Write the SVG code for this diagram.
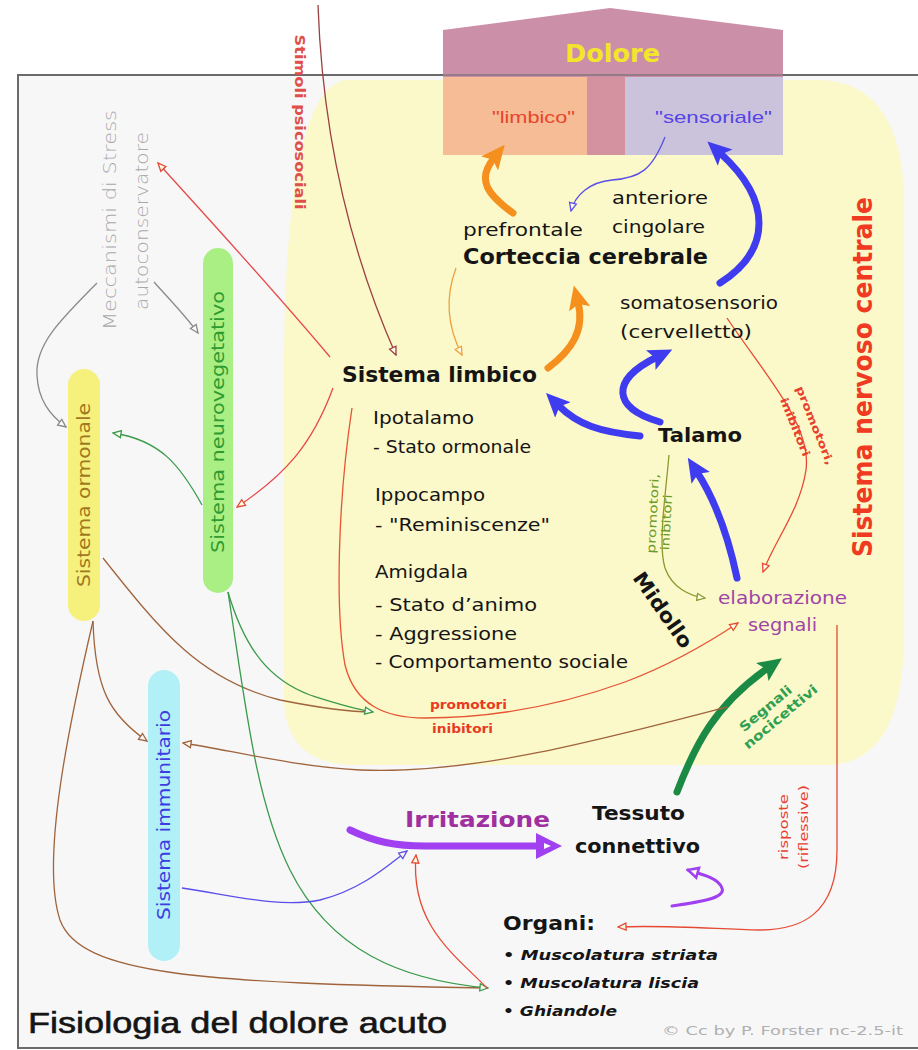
<svg xmlns="http://www.w3.org/2000/svg" width="918" height="1050" viewBox="0 0 918 1050">
<defs>
<style>
.d{font-family:"DejaVu Sans","Liberation Sans",sans-serif}
.l{font-family:"Liberation Sans",Arial,sans-serif}
.b{font-weight:bold}
.k{fill:#151515}
.thin{fill:none;stroke-width:1.3}
.thick{fill:none;stroke-width:7;stroke-linecap:round}
</style>
<marker id="oRed" viewBox="0 0 10 10" refX="9" refY="5" markerWidth="10" markerHeight="10" markerUnits="userSpaceOnUse" orient="auto"><path d="M1,1.5 L9,5 L1,8.5 Z" fill="#fdfbe6" stroke="#e64a34" stroke-width="1.3"/></marker>
<marker id="oDred" viewBox="0 0 10 10" refX="9" refY="5" markerWidth="10" markerHeight="10" markerUnits="userSpaceOnUse" orient="auto"><path d="M1,1.5 L9,5 L1,8.5 Z" fill="#fdfbe6" stroke="#9a4040" stroke-width="1.3"/></marker>
<marker id="oBrown" viewBox="0 0 10 10" refX="9" refY="5" markerWidth="10" markerHeight="10" markerUnits="userSpaceOnUse" orient="auto"><path d="M1,1.5 L9,5 L1,8.5 Z" fill="#fafafa" stroke="#a0643c" stroke-width="1.3"/></marker>
<marker id="oGreen" viewBox="0 0 10 10" refX="9" refY="5" markerWidth="10" markerHeight="10" markerUnits="userSpaceOnUse" orient="auto"><path d="M1,1.5 L9,5 L1,8.5 Z" fill="#fafafa" stroke="#3a9a4a" stroke-width="1.3"/></marker>
<marker id="oGray" viewBox="0 0 10 10" refX="9" refY="5" markerWidth="10" markerHeight="10" markerUnits="userSpaceOnUse" orient="auto"><path d="M1,1.5 L9,5 L1,8.5 Z" fill="#fafafa" stroke="#8a8a8a" stroke-width="1.3"/></marker>
<marker id="oOrange" viewBox="0 0 10 10" refX="9" refY="5" markerWidth="10" markerHeight="10" markerUnits="userSpaceOnUse" orient="auto"><path d="M1,1.5 L9,5 L1,8.5 Z" fill="#fdfbe6" stroke="#f0a040" stroke-width="1.3"/></marker>
<marker id="oBlue" viewBox="0 0 10 10" refX="9" refY="5" markerWidth="10" markerHeight="10" markerUnits="userSpaceOnUse" orient="auto"><path d="M1,1.5 L9,5 L1,8.5 Z" fill="#fdfbe6" stroke="#5a4ee8" stroke-width="1.3"/></marker>
<marker id="oOlive" viewBox="0 0 10 10" refX="9" refY="5" markerWidth="10" markerHeight="10" markerUnits="userSpaceOnUse" orient="auto"><path d="M1,1.5 L9,5 L1,8.5 Z" fill="#fdfbe6" stroke="#8a9a30" stroke-width="1.3"/></marker>
<marker id="oPurple" viewBox="0 0 14 14" refX="12" refY="7" markerWidth="14" markerHeight="14" markerUnits="userSpaceOnUse" orient="auto"><path d="M2,2 L12,7 L2,12 Z" fill="#fafafa" stroke="#a040f0" stroke-width="2.6"/></marker>
<marker id="hOrange" viewBox="0 0 24 22" refX="7" refY="11" markerWidth="24" markerHeight="22" markerUnits="userSpaceOnUse" orient="auto"><path d="M0,0 L24,11 L0,22 L5,11 Z" fill="#f5901e"/></marker>
<marker id="hBlue" viewBox="0 0 24 22" refX="7" refY="11" markerWidth="24" markerHeight="22" markerUnits="userSpaceOnUse" orient="auto"><path d="M0,0 L24,11 L0,22 L5,11 Z" fill="#3f3cf0"/></marker>
<marker id="hGreen" viewBox="0 0 24 22" refX="7" refY="11" markerWidth="24" markerHeight="22" markerUnits="userSpaceOnUse" orient="auto"><path d="M0,0 L24,11 L0,22 L5,11 Z" fill="#1a8a44"/></marker>
<marker id="hPurple" viewBox="0 0 26 26" refX="5" refY="13" markerWidth="26" markerHeight="26" markerUnits="userSpaceOnUse" orient="auto"><path d="M0,0 L26,13 L0,26 Z" fill="#a040f0"/><path d="M8,10 L15,13 L8,16 Z" fill="#fafafa"/></marker>
</defs>

<rect x="0" y="0" width="918" height="1050" fill="#ffffff"/>
<rect x="18" y="75" width="904" height="973" fill="#f7f7f8" stroke="#6a6a6a" stroke-width="2"/>

<g id="snc-region">
<path d="M345,80 L822,80 Q902,84 904,200 L904,640 Q902,762 830,765 L350,765 Q286,762 284,700 L284,360 Q286,90 345,80 Z" fill="#fbf8c9"/>
</g>

<g id="dolore">
<polygon points="443,30 610,8 783,30 783,155 443,155" fill="#cc8fa8"/>
<rect x="587" y="77" width="38" height="78" fill="#d4919f"/>
<rect x="443" y="77" width="144" height="78" fill="#f5bc96"/>
<rect x="625" y="77" width="158" height="78" fill="#cbc3dc"/>
<line x1="443" y1="75" x2="783" y2="75" stroke="#6a6a6a" stroke-width="2" opacity="0.55"/>
<text class="d b" x="565" y="62" font-size="24" fill="#f3e62a" textLength="95" lengthAdjust="spacingAndGlyphs">Dolore</text>
</g>
<g id="limbico-box"><text class="l" x="492" y="123" font-size="17" fill="#e8452c" textLength="83" lengthAdjust="spacingAndGlyphs">"limbico"</text></g>
<g id="sensoriale-box"><text class="l" x="655" y="123" font-size="17" fill="#5544e6" textLength="117" lengthAdjust="spacingAndGlyphs">"sensoriale"</text></g>

<g id="connectors">
<path class="thick" d="M513,213 C488,195 476,180 494,158" stroke="#f5901e" marker-end="url(#hOrange)"/>
<path class="thick" d="M548,368 C572,350 585,330 578,302" stroke="#f5901e" marker-end="url(#hOrange)"/>
<path class="thick" d="M720,283 C772,250 772,200 720,153" stroke="#3f3cf0" marker-end="url(#hBlue)"/>
<path class="thick" d="M640,436 C600,432 578,425 558,405" stroke="#3f3cf0" marker-end="url(#hBlue)"/>
<path class="thick" d="M660,422 C612,408 610,380 657,357" stroke="#3f3cf0" marker-end="url(#hBlue)"/>
<path class="thick" d="M737,578 C728,535 715,500 697,472" stroke="#3f3cf0" marker-end="url(#hBlue)"/>
<path class="thick" d="M677,792 C695,745 715,705 768,668" stroke="#1a8a44" marker-end="url(#hGreen)"/>
<path class="thick" d="M350,830 C375,842 395,846 425,846 L541,846" stroke="#a040f0" marker-end="url(#hPurple)"/>
<path fill="none" stroke="#a040f0" stroke-width="3" stroke-linecap="round" d="M672,906 C700,902 726,898 722,888 C719,879 705,875 688,870" marker-end="url(#oPurple)"/>
<path class="thin" d="M456,268 C444,300 449,330 462,355" stroke="#f0a040" marker-end="url(#oOrange)"/>
<path class="thin" d="M665,137 C652,170 640,178 612,180 C590,182 575,195 571,211" stroke="#5a4ee8" marker-end="url(#oBlue)"/>
<path class="thin" d="M727,318 C765,375 812,425 806,470 C800,510 775,540 763,572" stroke="#e64a34" marker-end="url(#oRed)"/>
<path class="thin" d="M669,455 C665,500 658,545 665,568 C672,588 690,596 705,598" stroke="#8a9a30" marker-end="url(#oOlive)"/>
<path class="thin" d="M352,408 C338,500 335,610 345,665 C355,705 385,718 425,718 C505,718 575,700 625,682 C670,665 705,645 738,623" stroke="#e65434" marker-end="url(#oRed)"/>
<path class="thin" d="M202,505 C180,465 160,440 113,433" stroke="#3a9a4a" marker-end="url(#oGreen)"/>
<path class="thin" d="M333,388 C312,445 285,475 237,507" stroke="#e84848" marker-end="url(#oRed)"/>
<path class="thin" d="M330,357 C265,280 205,215 158,163" stroke="#e84848" marker-end="url(#oRed)"/>
<path class="thin" d="M318,5 C322,120 345,240 396,355" stroke="#9a4040" marker-end="url(#oDred)"/>
<path class="thin" d="M97,283 C60,320 35,345 37,375 C38,400 50,415 66,427" stroke="#8a8a8a" marker-end="url(#oGray)"/>
<path class="thin" d="M154,282 C170,300 185,315 198,333" stroke="#8a8a8a" marker-end="url(#oGray)"/>
<path class="thin" d="M103,558 C160,630 200,680 280,700 C320,708 350,712 372,712" stroke="#a0643c"/>
<path class="thin" d="M228,592 C245,650 270,680 310,695 C335,703 350,708 373,712" stroke="#3a9a4a" marker-end="url(#oGreen)"/>
<path class="thin" d="M93,621 C95,690 110,715 147,741" stroke="#a0643c" marker-end="url(#oBrown)"/>
<path class="thin" d="M93,621 C70,720 40,860 60,920 C80,975 200,983 487,988" stroke="#a0643c"/>
<path class="thin" d="M228,592 C245,700 255,800 290,870 C330,950 400,980 488,988" stroke="#3a9a4a" marker-end="url(#oGreen)"/>
<path class="thin" d="M727,707 C600,740 470,775 360,770 C290,766 230,750 183,743" stroke="#a0643c" marker-end="url(#oBrown)"/>
<path class="thin" d="M182,888 C235,896 280,908 320,900 C360,890 385,868 407,851" stroke="#5a4ee8" marker-end="url(#oBlue)"/>
<path class="thin" d="M487,988 C455,955 410,925 416,855" stroke="#e64a34" marker-end="url(#oRed)"/>
<path class="thin" d="M837,625 L837,850 C837,915 800,930 760,930 C700,928 660,925 618,927" stroke="#e64a34" marker-end="url(#oRed)"/>
</g>

<g id="labels">
<text class="d b" transform="translate(300,122) rotate(90)" x="0" y="5" font-size="14" fill="#e0504a" text-anchor="middle" textLength="175" lengthAdjust="spacingAndGlyphs">Stimoli psicosociali</text>
<text class="d b" transform="translate(804,430) rotate(68)" text-anchor="middle" font-size="11" fill="#e8402a"><tspan x="0" y="-8" textLength="84" lengthAdjust="spacingAndGlyphs">promotori,</tspan><tspan x="-6" y="11" textLength="62" lengthAdjust="spacingAndGlyphs">inibitori</tspan></text>
<text class="d" transform="translate(660,514) rotate(-87)" text-anchor="middle" font-size="12" fill="#6a9a28"><tspan x="0" y="-3" textLength="80" lengthAdjust="spacingAndGlyphs">promotori,</tspan><tspan x="-8" y="11" textLength="56" lengthAdjust="spacingAndGlyphs">inibitori</tspan></text>
<text class="d b" x="430" y="709" font-size="12" fill="#e83a24" textLength="77" lengthAdjust="spacingAndGlyphs">promotori</text>
<text class="d b" x="432" y="733" font-size="12" fill="#e83a24" textLength="61" lengthAdjust="spacingAndGlyphs">inibitori</text>
<text class="d b" transform="translate(773,708) rotate(-40)" text-anchor="middle" font-size="13" fill="#30a050"><tspan x="-6" y="0" textLength="64" lengthAdjust="spacingAndGlyphs">Segnali</tspan><tspan x="0" y="16" textLength="92" lengthAdjust="spacingAndGlyphs">nocicettivi</tspan></text>
<text class="d" transform="translate(794,827) rotate(-90)" text-anchor="middle" font-size="12" fill="#e84030"><tspan x="0" y="-6" textLength="66" lengthAdjust="spacingAndGlyphs">risposte</tspan><tspan x="0" y="14" textLength="84" lengthAdjust="spacingAndGlyphs">(riflessive)</tspan></text>
</g>

<g id="stress">
<text class="d" transform="translate(110,220) rotate(-90)" x="0" y="6" font-size="18" fill="#a8a8a8" font-weight="300" text-anchor="middle" textLength="220" lengthAdjust="spacingAndGlyphs">Meccanismi di Stress</text>
<text class="d" transform="translate(142,221) rotate(-90)" x="0" y="6" font-size="18" fill="#a8a8a8" font-weight="300" text-anchor="middle" textLength="178" lengthAdjust="spacingAndGlyphs">autoconservatore</text>
</g>

<g id="neurovegetativo">
<rect x="203" y="248" width="30" height="345" rx="15" fill="#a9ef84"/>
<text class="d" transform="translate(218,422) rotate(-90)" x="0" y="6" font-size="17" fill="#2e9a30" text-anchor="middle" textLength="262" lengthAdjust="spacingAndGlyphs">Sistema neurovegetativo</text>
</g>
<g id="ormonale">
<rect x="68" y="369" width="32" height="252" rx="16" fill="#f6f07c"/>
<text class="d" transform="translate(84,495) rotate(-90)" x="0" y="6" font-size="17" fill="#a07820" text-anchor="middle" textLength="184" lengthAdjust="spacingAndGlyphs">Sistema ormonale</text>
</g>
<g id="immunitario">
<rect x="148" y="670" width="32" height="291" rx="16" fill="#b2f0f8"/>
<text class="d" transform="translate(164,815) rotate(-90)" x="0" y="6" font-size="17" fill="#3c3ce0" text-anchor="middle" textLength="210" lengthAdjust="spacingAndGlyphs">Sistema immunitario</text>
</g>
<g id="snc-label">
<text class="d b" transform="translate(862,377) rotate(-90)" x="0" y="10" font-size="27" fill="#f03a22" text-anchor="middle" textLength="360" lengthAdjust="spacingAndGlyphs">Sistema nervoso centrale</text>
</g>

<g id="corteccia">
<text class="d k" x="463" y="236" font-size="17" textLength="120" lengthAdjust="spacingAndGlyphs">prefrontale</text>
<text class="d k" x="612" y="204" font-size="17" textLength="96" lengthAdjust="spacingAndGlyphs">anteriore</text>
<text class="d k" x="612" y="233" font-size="17" textLength="93" lengthAdjust="spacingAndGlyphs">cingolare</text>
<text class="d b k" x="463" y="264" font-size="21" textLength="245" lengthAdjust="spacingAndGlyphs">Corteccia cerebrale</text>
</g>
<g id="somatosensorio">
<text class="d k" x="620" y="309" font-size="17" textLength="158" lengthAdjust="spacingAndGlyphs">somatosensorio</text>
<text class="d k" x="620" y="338" font-size="17" textLength="132" lengthAdjust="spacingAndGlyphs">(cervelletto)</text>
</g>
<g id="sistema-limbico">
<text class="d b k" x="342" y="382" font-size="21" textLength="195" lengthAdjust="spacingAndGlyphs">Sistema limbico</text>
<text class="d k" x="373" y="424" font-size="17" textLength="101" lengthAdjust="spacingAndGlyphs">Ipotalamo</text>
<text class="d k" x="373" y="453" font-size="17" textLength="158" lengthAdjust="spacingAndGlyphs">- Stato ormonale</text>
<text class="d k" x="375" y="501" font-size="17" textLength="110" lengthAdjust="spacingAndGlyphs">Ippocampo</text>
<text class="d k" x="375" y="531" font-size="17" textLength="175" lengthAdjust="spacingAndGlyphs">- "Reminiscenze"</text>
<text class="d k" x="375" y="578" font-size="17" textLength="93" lengthAdjust="spacingAndGlyphs">Amigdala</text>
<text class="d k" x="375" y="611" font-size="17" textLength="162" lengthAdjust="spacingAndGlyphs">- Stato d’animo</text>
<text class="d k" x="375" y="640" font-size="17" textLength="142" lengthAdjust="spacingAndGlyphs">- Aggressione</text>
<text class="d k" x="375" y="668" font-size="17" textLength="253" lengthAdjust="spacingAndGlyphs">- Comportamento sociale</text>
</g>
<g id="talamo"><text class="d b k" x="658" y="442" font-size="20" textLength="84" lengthAdjust="spacingAndGlyphs">Talamo</text></g>
<g id="midollo"><text class="d b k" transform="translate(663,610) rotate(55)" x="0" y="7" font-size="20" text-anchor="middle" textLength="88" lengthAdjust="spacingAndGlyphs">Midollo</text></g>
<g id="elaborazione">
<text class="d" x="718" y="604" font-size="17" fill="#a044a8" textLength="129" lengthAdjust="spacingAndGlyphs">elaborazione</text>
<text class="d" x="748" y="631" font-size="17" fill="#a044a8" textLength="69" lengthAdjust="spacingAndGlyphs">segnali</text>
</g>
<g id="irritazione"><text class="d b" x="405" y="827" font-size="22" fill="#a030a0" textLength="145" lengthAdjust="spacingAndGlyphs">Irritazione</text></g>
<g id="tessuto">
<text class="d b k" x="592" y="820" font-size="20" textLength="93" lengthAdjust="spacingAndGlyphs">Tessuto</text>
<text class="d b k" x="575" y="853" font-size="20" textLength="125" lengthAdjust="spacingAndGlyphs">connettivo</text>
</g>
<g id="organi">
<text class="d b k" x="503" y="930" font-size="20" textLength="92" lengthAdjust="spacingAndGlyphs">Organi:</text>
<text class="d b k" x="503" y="960" font-size="14" font-style="italic" textLength="215" lengthAdjust="spacingAndGlyphs">• Muscolatura striata</text>
<text class="d b k" x="503" y="988" font-size="14" font-style="italic" textLength="196" lengthAdjust="spacingAndGlyphs">• Muscolatura liscia</text>
<text class="d b k" x="503" y="1016" font-size="14" font-style="italic" textLength="114" lengthAdjust="spacingAndGlyphs">• Ghiandole</text>
</g>
<g id="title"><text class="l k" x="28" y="1033" font-size="30" stroke="#151515" stroke-width="0.6" textLength="419" lengthAdjust="spacingAndGlyphs">Fisiologia del dolore acuto</text></g>
<g id="credit"><text class="d" x="662" y="1035" font-size="13" fill="#b0b0b0" textLength="241" lengthAdjust="spacingAndGlyphs">© Cc by P. Forster nc-2.5-it</text></g>
</svg>
